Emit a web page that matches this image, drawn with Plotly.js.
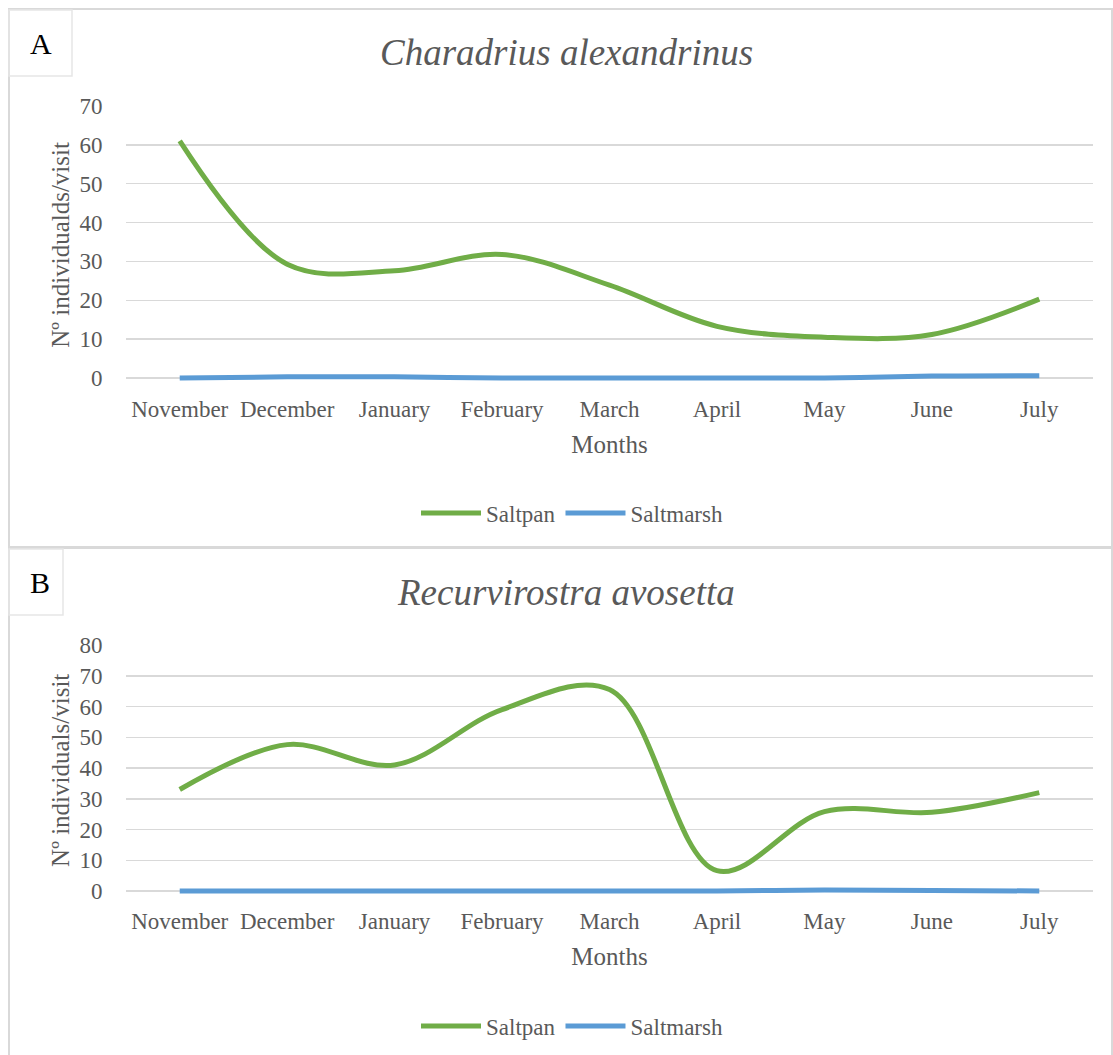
<!DOCTYPE html>
<html>
<head>
<meta charset="utf-8">
<script src="https://cdn.plot.ly/plotly-3.0.1.min.js"></script>
<style>html,body{margin:0;padding:0;background:#fff;}#chart{width:1113px;height:1055px;}</style>
</head>
<body>
<div id="chart"></div>
<script>
const months = ["November","December","January","February","March","April","May","June","July"];
const saltpanA = [61, 29.3, 27.6, 31.8, 23.9, 13.3, 10.5, 11.2, 20.3];
const saltmarshA = [0, 0.3, 0.3, 0, 0, 0, 0, 0.5, 0.6];
const saltpanB = [33, 47.6, 41, 59, 65.5, 6.6, 25.8, 25.6, 32];
const saltmarshB = [0, 0, 0, 0, 0, 0, 0.3, 0.2, 0];
const titleA = "Charadrius alexandrinus";
const titleB = "Recurvirostra avosetta";
const yTitleA = "Nº individualds/visit";
const yTitleB = "Nº individuals/visit";
const xTitle = "Months";
const yTicksA = [0,10,20,30,40,50,60,70];
const yTicksB = [0,10,20,30,40,50,60,70,80];

const W = 1113, H = 1055;
const px = v => v / W;
const py = v => 1 - v / H;
const GREEN = "#70ad47", BLUE = "#5b9bd5", GRID = "#d9d9d9", TXT = "#595959";
const FONT = "Liberation Serif, Times New Roman, serif";

function line(y, name, color, xa, ya, leg) {
  return {x: months, y: y, name: name, type: "scatter", mode: "lines",
    line: {color: color, width: 5, shape: "spline", smoothing: 1},
    xaxis: xa, yaxis: ya, legend: leg, showlegend: true, hoverinfo: "x+y+name"};
}
const data = [
  line(saltpanA, "Saltpan", GREEN, "x", "y", "legend"),
  line(saltmarshA, "Saltmarsh", BLUE, "x", "y", "legend"),
  line(saltpanB, "Saltpan", GREEN, "x2", "y2", "legend2"),
  line(saltmarshB, "Saltmarsh", BLUE, "x2", "y2", "legend2")
];

function xaxis(dom, anchor) {
  return {domain: dom, anchor: anchor, type: "category", range: [-0.5, 8.5],
    showgrid: false, zeroline: false, showline: false,
    ticks: "outside", ticklen: 5, tickcolor: "rgba(0,0,0,0)",
    tickfont: {family: FONT, size: 23, color: TXT},
    title: {text: xTitle, font: {family: FONT, size: 25, color: TXT}, standoff: 14}};
}
// small negative pad so the thick zero-level line is not clipped; domain is widened to keep 0 at the same pixel row
const PAD = 1.5;
function yaxis(top, zeroPx, anchor, max, vals, t) {
  const ppu = (zeroPx - top) / max;
  return {domain: [py(zeroPx + PAD * ppu), py(top)], anchor: anchor, range: [-PAD, max], tickvals: vals,
    showgrid: true, gridcolor: GRID, gridwidth: 1.5, zeroline: false, showline: false,
    ticks: "outside", ticklen: 18, tickcolor: "rgba(0,0,0,0)",
    tickfont: {family: FONT, size: 23, color: TXT},
    title: {text: t, font: {family: FONT, size: 25, color: TXT}, standoff: 2}};
}

const layout = {
  width: W, height: H,
  margin: {l: 0, r: 0, t: 0, b: 0},
  paper_bgcolor: "#fff", plot_bgcolor: "#fff",
  xaxis: xaxis([px(126), px(1093)], "y"),
  yaxis: yaxis(106, 378, "x", 70, yTicksA, yTitleA),
  xaxis2: xaxis([px(126), px(1093)], "y2"),
  yaxis2: yaxis(645, 891, "x2", 80, yTicksB, yTitleB),
  legend: {orientation: "h", x: px(572), xanchor: "center", y: py(513), yanchor: "middle",
    font: {family: FONT, size: 23, color: TXT}, itemwidth: 60, bgcolor: "rgba(0,0,0,0)"},
  legend2: {orientation: "h", x: px(572), xanchor: "center", y: py(1026), yanchor: "middle",
    font: {family: FONT, size: 23, color: TXT}, itemwidth: 60, bgcolor: "rgba(0,0,0,0)"},
  shapes: [
    {type: "rect", xref: "paper", yref: "paper", x0: px(9), x1: px(1112), y0: py(547), y1: py(9), line: {color: GRID, width: 2}},
    {type: "rect", xref: "paper", yref: "paper", x0: px(9), x1: px(72), y0: py(76), y1: py(10), line: {color: "#e6e6e6", width: 1.5}},
    {type: "rect", xref: "paper", yref: "paper", x0: px(9), x1: px(1112), y0: py(1060), y1: py(548), line: {color: GRID, width: 2}},
    {type: "rect", xref: "paper", yref: "paper", x0: px(9), x1: px(63), y0: py(615), y1: py(549), line: {color: "#e6e6e6", width: 1.5}}
  ],
  annotations: [
    {text: "A", xref: "paper", yref: "paper", x: px(41), y: py(44), showarrow: false, xanchor: "center", yanchor: "middle",
      font: {family: FONT, size: 30, color: "#000"}},
    {text: "B", xref: "paper", yref: "paper", x: px(40), y: py(582), showarrow: false, xanchor: "center", yanchor: "middle",
      font: {family: FONT, size: 30, color: "#000"}},
    {text: "<i>" + titleA + "</i>", xref: "paper", yref: "paper", x: px(566), y: py(53), showarrow: false, xanchor: "center", yanchor: "middle",
      font: {family: FONT, size: 37, color: TXT}},
    {text: "<i>" + titleB + "</i>", xref: "paper", yref: "paper", x: px(566), y: py(592), showarrow: false, xanchor: "center", yanchor: "middle",
      font: {family: FONT, size: 37, color: TXT}}
  ]
};
Plotly.newPlot("chart", data, layout, {displayModeBar: false, staticPlot: true});
</script>
</body>
</html>
